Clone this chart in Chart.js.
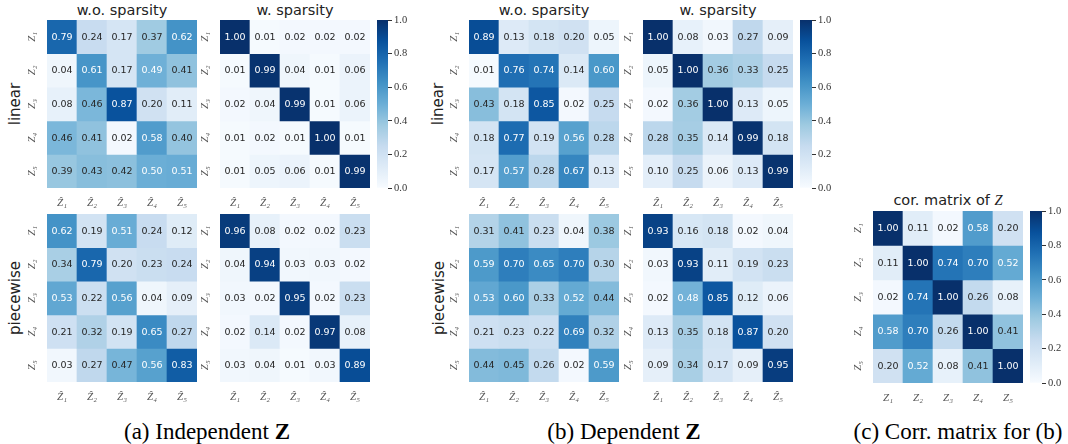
<!DOCTYPE html>
<html>
<head>
<meta charset="utf-8">
<script src="https://cdn.jsdelivr.net/npm/chart.js@4.4.0/dist/chart.umd.min.js"></script>
<style>
  body { margin: 0; background: #fff; }
  #page { position: relative; width: 1068px; height: 444px; overflow: hidden; background: #fff; }
  .box { position: absolute; }
  .title { position: absolute; font: 14.5px 'DejaVu Sans'; color: #222; transform: translateX(-50%); white-space: nowrap; line-height: 20px; }
  .side { position: absolute; font: 15px 'DejaVu Sans'; color: #222; transform: translate(-50%, -50%) rotate(-90deg); white-space: nowrap; }
  .caption { position: absolute; font-size: 23px; font-family: 'Liberation Serif', 'Times New Roman', Times, 'DejaVu Serif', serif; color: #000; transform: translate(-50%, -50%); white-space: nowrap; }
  .serif { font-family: 'Liberation Serif', 'Times New Roman', Times, 'DejaVu Serif', serif; }
</style>
</head>
<body>
<div id="page">
  <div class="title" style="left:122px;top:0px">w.o. sparsity</div>
  <div class="title" style="left:295px;top:0px">w. sparsity</div>
  <div class="title" style="left:544px;top:0px">w.o. sparsity</div>
  <div class="title" style="left:718px;top:0px">w. sparsity</div>
  <div class="title" style="left:948px;top:190px">cor. matrix of <i class="serif">Z</i></div>

  <div class="side" style="left:15px;top:104px">linear</div>
  <div class="side" style="left:15px;top:298px">piecewise</div>
  <div class="side" style="left:438px;top:104px">linear</div>
  <div class="side" style="left:439px;top:298px">piecewise</div>

  <div class="caption" style="left:207px;top:432px">(a) Independent <b>Z</b></div>
  <div class="caption" style="left:624px;top:432px">(b) Dependent <b>Z</b></div>
  <div class="caption" style="left:958px;top:432px">(c) Corr. matrix for (b)</div>
</div>

<script>
// tick labels
const rowLabels = ['Z₁', 'Z₂', 'Z₃', 'Z₄', 'Z₅'];
const hatLabels = ['Ẑ₁', 'Ẑ₂', 'Ẑ₃', 'Ẑ₄', 'Ẑ₅'];
const colorbarTicks = [0, 0.2, 0.4, 0.6, 0.8, 1.0];

// (a) independent Z
const indepLinearWo = [
  [0.79, 0.24, 0.17, 0.37, 0.62],
  [0.04, 0.61, 0.17, 0.49, 0.41],
  [0.08, 0.46, 0.87, 0.20, 0.11],
  [0.46, 0.41, 0.02, 0.58, 0.40],
  [0.39, 0.43, 0.42, 0.50, 0.51]
];
const indepLinearW = [
  [1.00, 0.01, 0.02, 0.02, 0.02],
  [0.01, 0.99, 0.04, 0.01, 0.06],
  [0.02, 0.04, 0.99, 0.01, 0.06],
  [0.01, 0.02, 0.01, 1.00, 0.01],
  [0.01, 0.05, 0.06, 0.01, 0.99]
];
const indepPiecewiseWo = [
  [0.62, 0.19, 0.51, 0.24, 0.12],
  [0.34, 0.79, 0.20, 0.23, 0.24],
  [0.53, 0.22, 0.56, 0.04, 0.09],
  [0.21, 0.32, 0.19, 0.65, 0.27],
  [0.03, 0.27, 0.47, 0.56, 0.83]
];
const indepPiecewiseW = [
  [0.96, 0.08, 0.02, 0.02, 0.23],
  [0.04, 0.94, 0.03, 0.03, 0.02],
  [0.03, 0.02, 0.95, 0.02, 0.23],
  [0.02, 0.14, 0.02, 0.97, 0.08],
  [0.03, 0.04, 0.01, 0.03, 0.89]
];

// (b) dependent Z
const depLinearWo = [
  [0.89, 0.13, 0.18, 0.20, 0.05],
  [0.01, 0.76, 0.74, 0.14, 0.60],
  [0.43, 0.18, 0.85, 0.02, 0.25],
  [0.18, 0.77, 0.19, 0.56, 0.28],
  [0.17, 0.57, 0.28, 0.67, 0.13]
];
const depLinearW = [
  [1.00, 0.08, 0.03, 0.27, 0.09],
  [0.05, 1.00, 0.36, 0.33, 0.25],
  [0.02, 0.36, 1.00, 0.13, 0.05],
  [0.28, 0.35, 0.14, 0.99, 0.18],
  [0.10, 0.25, 0.06, 0.13, 0.99]
];
const depPiecewiseWo = [
  [0.31, 0.41, 0.23, 0.04, 0.38],
  [0.59, 0.70, 0.65, 0.70, 0.30],
  [0.53, 0.60, 0.33, 0.52, 0.44],
  [0.21, 0.23, 0.22, 0.69, 0.32],
  [0.44, 0.45, 0.26, 0.02, 0.59]
];
const depPiecewiseW = [
  [0.93, 0.16, 0.18, 0.02, 0.04],
  [0.03, 0.93, 0.11, 0.19, 0.23],
  [0.02, 0.48, 0.85, 0.12, 0.06],
  [0.13, 0.35, 0.18, 0.87, 0.20],
  [0.09, 0.34, 0.17, 0.09, 0.95]
];

// (c) correlation matrix of Z
const corrMatrix = [
  [1.00, 0.11, 0.02, 0.58, 0.20],
  [0.11, 1.00, 0.74, 0.70, 0.52],
  [0.02, 0.74, 1.00, 0.26, 0.08],
  [0.58, 0.70, 0.26, 1.00, 0.41],
  [0.20, 0.52, 0.08, 0.41, 1.00]
];

// matplotlib "Blues"
const bluesStops = ['#f7fbff', '#deebf7', '#c6dbef', '#9ecae1', '#6baed6', '#4292c6', '#2171b5', '#08519c', '#08306b'];

const serifFamily = "'Liberation Serif', 'Times New Roman', Times, 'DejaVu Serif', serif";

function hexToRgb(h) {
  return [parseInt(h.slice(1, 3), 16), parseInt(h.slice(3, 5), 16), parseInt(h.slice(5, 7), 16)];
}

function blues(v) {
  v = Math.max(0, Math.min(1, v));
  const pos = v * (bluesStops.length - 1);
  const i = Math.min(Math.floor(pos), bluesStops.length - 2);
  const t = pos - i;
  const a = hexToRgb(bluesStops[i]);
  const b = hexToRgb(bluesStops[i + 1]);
  return a.map((c, k) => Math.round(c + (b[k] - c) * t));
}

function rgbStr(c) {
  return 'rgb(' + c[0] + ',' + c[1] + ',' + c[2] + ')';
}

// same rule as seaborn: dark text on light cells
function textColor(v) {
  const lin = blues(v).map(c => {
    c = c / 255;
    return c <= 0.03928 ? c / 12.92 : Math.pow((c + 0.055) / 1.055, 2.4);
  });
  const lum = 0.2126 * lin[0] + 0.7152 * lin[1] + 0.0722 * lin[2];
  return lum > 0.408 ? '#262626' : '#ffffff';
}

const page = document.getElementById('page');

function addCanvas(left, top, w, h) {
  const div = document.createElement('div');
  div.className = 'box';
  div.style.left = left + 'px';
  div.style.top = top + 'px';
  div.style.width = w + 'px';
  div.style.height = h + 'px';
  const cv = document.createElement('canvas');
  cv.width = w;
  cv.height = h;
  div.appendChild(cv);
  page.appendChild(div);
  return cv;
}

const tickFont = { family: serifFamily, style: 'italic', size: 11 };

function makeHeatmap(matrix, xLabels, left, top, h) {
  const yAxisW = 25, xAxisH = 24, w = 150;
  const cv = addCanvas(left - yAxisW, top, yAxisW + w, h + xAxisH);

  // one dataset per row, stacked downwards
  const datasets = matrix.map((row, r) => ({
    label: rowLabels[r],
    data: row.map(() => 1),
    backgroundColor: row.map(v => rgbStr(blues(v))),
    borderWidth: 0,
    barPercentage: 1,
    categoryPercentage: 1
  }));

  const cellText = {
    id: 'cellText',
    afterDatasetsDraw(chart) {
      const ctx = chart.ctx;
      ctx.save();
      ctx.font = '9.5px "DejaVu Sans"';
      ctx.textAlign = 'center';
      ctx.textBaseline = 'middle';
      matrix.forEach((row, r) => {
        chart.getDatasetMeta(r).data.forEach((bar, c) => {
          ctx.fillStyle = textColor(row[c]);
          ctx.fillText(row[c].toFixed(2), bar.x, (bar.y + bar.base) / 2 + 0.5);
        });
      });
      ctx.restore();
    }
  };

  return new Chart(cv, {
    type: 'bar',
    data: { labels: xLabels, datasets: datasets },
    options: {
      responsive: false,
      animation: false,
      layout: { padding: 0 },
      plugins: { legend: { display: false }, tooltip: { enabled: false } },
      scales: {
        x: {
          stacked: true,
          grid: { display: false, drawTicks: false },
          border: { display: false },
          ticks: { padding: 9, color: '#555', font: tickFont, maxRotation: 0, autoSkip: false },
          afterFit: s => { s.height = xAxisH; s.paddingLeft = 0; s.paddingRight = 0; }
        },
        y: {
          type: 'linear',
          stacked: true,
          min: 0,
          max: 5,
          reverse: true,
          grid: { display: false, drawTicks: false },
          border: { display: false },
          afterBuildTicks: s => { s.ticks = rowLabels.map((_, i) => ({ value: i + 0.5 })); },
          ticks: {
            autoSkip: false,
            minRotation: 90,
            maxRotation: 90,
            crossAlign: 'center',
            padding: 10,
            color: '#555',
            font: tickFont,
            callback: (v, i) => rowLabels[i]
          },
          afterFit: s => { s.width = yAxisW; s.paddingTop = 0; s.paddingBottom = 0; }
        }
      }
    },
    plugins: [cellText]
  });
}

function makeColorbar(left, top, h, barW) {
  const pad = 8, axisW = 32;
  const cv = addCanvas(left, top - pad, barW + axisW, h + 2 * pad);
  return new Chart(cv, {
    type: 'bar',
    data: {
      labels: [''],
      datasets: [{
        data: [1],
        borderWidth: 0,
        barPercentage: 1,
        categoryPercentage: 1,
        backgroundColor: ctx => {
          const area = ctx.chart.chartArea;
          if (!area) return bluesStops[4];
          const g = ctx.chart.ctx.createLinearGradient(0, area.bottom, 0, area.top);
          bluesStops.forEach((c, i) => g.addColorStop(i / (bluesStops.length - 1), c));
          return g;
        }
      }]
    },
    options: {
      responsive: false,
      animation: false,
      layout: { padding: { top: pad, bottom: pad, left: 0, right: 0 } },
      plugins: { legend: { display: false }, tooltip: { enabled: false } },
      scales: {
        x: { display: false },
        y: {
          position: 'right',
          min: 0,
          max: 1,
          afterBuildTicks: s => { s.ticks = colorbarTicks.map(v => ({ value: v })); },
          grid: { drawOnChartArea: false, drawTicks: true, tickLength: 4, color: '#333', lineWidth: 1 },
          border: { display: false },
          ticks: {
            padding: 2,
            color: '#333',
            font: { family: serifFamily, size: 10.5 },
            callback: v => v.toFixed(1)
          },
          afterFit: s => { s.width = axisW; s.paddingTop = 0; s.paddingBottom = 0; }
        }
      }
    }
  });
}

// (a)
makeHeatmap(indepLinearWo, hatLabels, 47, 20, 168);
makeHeatmap(indepLinearW, hatLabels, 220, 20, 168);
makeHeatmap(indepPiecewiseWo, hatLabels, 47, 214, 168);
makeHeatmap(indepPiecewiseW, hatLabels, 220, 214, 168);
makeColorbar(377, 20, 168, 11);

// (b)
makeHeatmap(depLinearWo, hatLabels, 469, 20, 168);
makeHeatmap(depLinearW, hatLabels, 643, 20, 168);
makeHeatmap(depPiecewiseWo, hatLabels, 469, 214, 168);
makeHeatmap(depPiecewiseW, hatLabels, 643, 214, 168);
makeColorbar(800, 20, 168, 12);

// (c)
makeHeatmap(corrMatrix, rowLabels, 873, 211, 172);
makeColorbar(1030, 211, 172, 12);
</script>
</body>
</html>
